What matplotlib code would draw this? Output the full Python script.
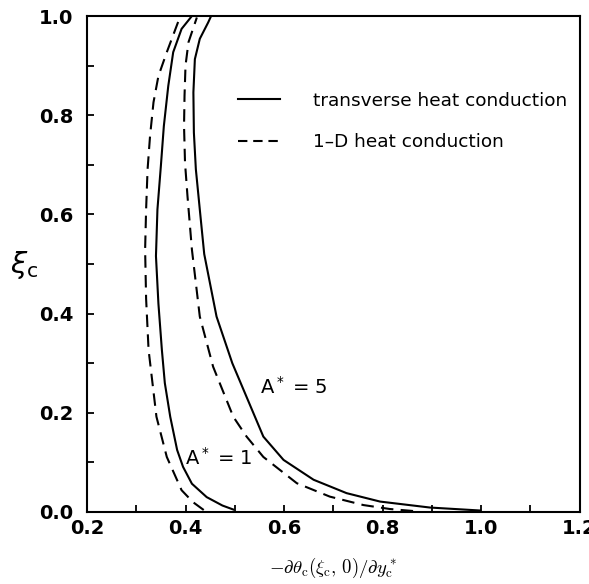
import numpy as np
import matplotlib
matplotlib.use("Agg")
from matplotlib import pyplot as plt
from matplotlib.lines import Line2D
from matplotlib.ticker import MultipleLocator, FormatStrFormatter

# curvas: (gradiente, xi_c)
x_a1_trans = [0.497, 0.475, 0.443, 0.413, 0.395, 0.383, 0.369, 0.358, 0.352, 0.345,
              0.340, 0.343, 0.350, 0.356, 0.365, 0.375, 0.392, 0.413]
xi_a1_trans = [0.005, 0.013, 0.030, 0.057, 0.091, 0.125, 0.192, 0.260, 0.327, 0.420,
               0.516, 0.610, 0.698, 0.778, 0.859, 0.927, 0.974, 1.0]

x_a1_1d = [0.437, 0.415, 0.392, 0.362, 0.341, 0.325, 0.320, 0.318, 0.320, 0.323,
           0.328, 0.335, 0.345, 0.362, 0.385, 0.392]
xi_a1_1d = [0.004, 0.020, 0.044, 0.111, 0.192, 0.327, 0.430, 0.529, 0.610, 0.691,
            0.758, 0.826, 0.879, 0.927, 0.988, 1.0]

x_a5_trans = [0.998, 0.896, 0.795, 0.727, 0.660, 0.599, 0.558, 0.538, 0.495,
              0.463, 0.438, 0.429, 0.421, 0.417, 0.416, 0.419, 0.429, 0.446, 0.452]
xi_a5_trans = [0.003, 0.009, 0.021, 0.038, 0.065, 0.105, 0.152, 0.199, 0.300,
               0.394, 0.520, 0.610, 0.691, 0.765, 0.846, 0.913, 0.954, 0.987, 1.0]

x_a5_1d = [0.862, 0.815, 0.761, 0.693, 0.626, 0.558, 0.524, 0.497, 0.456,
           0.429, 0.413, 0.404, 0.399, 0.397, 0.398, 0.400, 0.406, 0.423]
xi_a5_1d = [0.002, 0.006, 0.014, 0.031, 0.058, 0.111, 0.152, 0.192, 0.293,
            0.394, 0.529, 0.637, 0.704, 0.778, 0.839, 0.900, 0.947, 0.997]

etiquetas_leyenda = ["transverse heat conduction", "1\u2013D heat conduction"]

plt.rcParams['mathtext.fontset'] = 'dejavusans'

fig = plt.figure(figsize=(5.89, 5.84), dpi=100)
ax = fig.add_axes([0.1477, 0.1233, 0.8363, 0.8493])

lw = 1.5
guiones = (6, 3.5)
ax.plot(x_a1_trans, xi_a1_trans, color='black', lw=lw)
ax.plot(x_a1_1d, xi_a1_1d, color='black', lw=lw, dashes=guiones)
ax.plot(x_a5_trans, xi_a5_trans, color='black', lw=lw)
ax.plot(x_a5_1d, xi_a5_1d, color='black', lw=lw, dashes=guiones)

ax.set_xlim(0.2, 1.2)
ax.set_ylim(0.0, 1.0)
ax.xaxis.set_major_locator(MultipleLocator(0.2))
ax.xaxis.set_minor_locator(MultipleLocator(0.1))
ax.yaxis.set_major_locator(MultipleLocator(0.2))
ax.yaxis.set_minor_locator(MultipleLocator(0.1))
ax.xaxis.set_major_formatter(FormatStrFormatter('%.1f'))
ax.yaxis.set_major_formatter(FormatStrFormatter('%.1f'))
ax.tick_params(which='both', direction='in', length=5, width=1.3,
               top=False, right=False)
ax.tick_params(axis='x', which='major', pad=5, labelsize=14)
ax.tick_params(axis='y', which='major', pad=10, labelsize=14)
for lab in ax.get_xticklabels() + ax.get_yticklabels():
    lab.set_fontweight('semibold')
for s in ax.spines.values():
    s.set_linewidth(1.5)

ax.set_ylabel(r'$\xi_{\mathsf{c}}$', rotation=0, fontsize=21, va='center')
ax.yaxis.set_label_coords(-0.128, 0.497)
ax.set_xlabel(r'$-\partial\theta_{\rm c}(\xi_{\rm c},\,0)/\partial y^*_{\rm c}$',
              fontsize=13.5, math_fontfamily='cm', labelpad=13)

ax.text(0.551, 0.253, r'A$^*$ = 5', fontsize=14, va='center', ha='left')
ax.text(0.399, 0.109, r'A$^*$ = 1', fontsize=14, va='center', ha='left')

manijas = [Line2D([], [], color='black', lw=lw),
           Line2D([], [], color='black', lw=lw, dashes=(4.5, 2.8))]
ax.legend(manijas, etiquetas_leyenda, loc='upper left',
          bbox_to_anchor=(0.3066, 0.847), frameon=False,
          fontsize=13.3, handlelength=2.27, handletextpad=1.8, labelspacing=1.25,
          borderpad=0, borderaxespad=0)

fig.savefig('out.png', dpi=100)
